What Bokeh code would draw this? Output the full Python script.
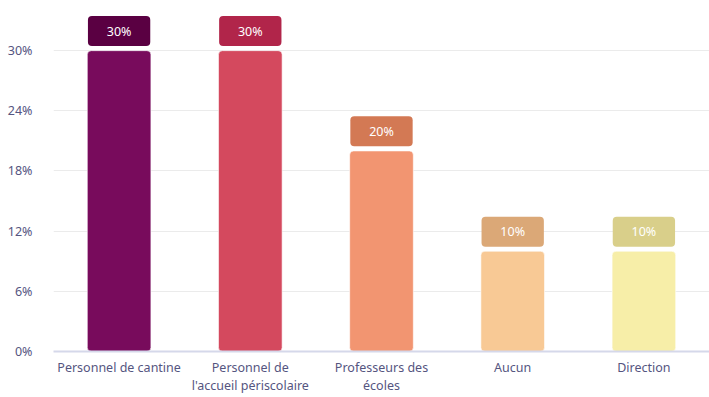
from bokeh.plotting import figure
from bokeh.models import ColumnDataSource, FixedTicker, PrintfTickFormatter
from bokeh.core.properties import value
from bokeh.embed import file_html
from bokeh.resources import INLINE

categories = ["Personnel de cantine", "Personnel de\nl'accueil périscolaire", "Professeurs des\nécoles", "Aucun", "Direction"]
values = [30, 30, 20, 10, 10]
labels = ["30%", "30%", "20%", "10%", "10%"]
bar_colors = ["#780b5c", "#d4495e", "#f29571", "#f8c995", "#f7eea8"]
box_colors = ["#5a0042", "#b1254a", "#d37954", "#dba877", "#d9cf8a"]
y_ticks = [0, 6, 12, 18, 24, 30]

FONT = "Noto Sans"
TXT = "#55557f"

src = ColumnDataSource(dict(
    cat=categories, v=values, lab=labels, bc=bar_colors, kc=box_colors,
    by=[v + 1.95 for v in values],
))

p = figure(x_range=categories, y_range=(0, 35), width=709, height=397,
           output_backend="svg", toolbar_location=None,
           min_border_left=53, min_border_right=0, min_border_top=0, min_border_bottom=0)
p.outline_line_color = None
p.background_fill_color = "white"

p.vbar(x="cat", top="v", width=0.485, fill_color="bc", line_color="white", line_alpha=0.6,
       line_width=1, border_radius=4, source=src)
p.rect(x="cat", y="by", width=0.475, height=30, height_units="screen",
       fill_color="kc", line_color=None, border_radius=4, source=src)
p.text(x="cat", y="by", text="lab", text_align="center", text_baseline="middle",
       text_color="white", text_font=value(FONT), text_font_size="12.5px", source=src)

# y axis
p.yaxis.ticker = FixedTicker(ticks=y_ticks)
p.yaxis.formatter = PrintfTickFormatter(format="%d%%")
p.yaxis.axis_line_color = None
p.yaxis.major_tick_line_color = None
p.yaxis.minor_tick_line_color = None
p.yaxis.major_label_text_font = FONT
p.yaxis.major_label_text_font_size = "12.5px"
p.yaxis.major_label_text_color = TXT
p.yaxis.major_label_standoff = 15
p.ygrid.grid_line_color = "#ebebeb"
p.ygrid.grid_line_width = 1
p.xgrid.grid_line_color = None

# x axis
xa = p.xaxis[0]
xa.axis_line_color = "#d5d8ea"
xa.axis_line_width = 2
xa.major_tick_line_color = None
xa.minor_tick_line_color = None
xa.major_label_text_font = FONT
xa.major_label_text_font_size = "12.5px"
xa.major_label_text_color = TXT
xa.major_label_text_line_height = 1.1
xa.major_label_standoff = 1

open("out.html", "w").write(file_html(p, INLINE))
